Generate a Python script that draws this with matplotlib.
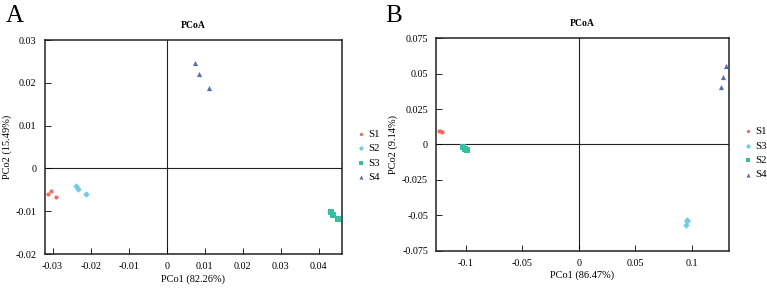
import matplotlib
matplotlib.use("Agg")
import matplotlib.pyplot as plt

plt.rcParams['font.family'] = ['Liberation Serif', 'DejaVu Serif']

# panel A
a_s1_x = [-0.0312, -0.0304, -0.0291]
a_s1_y = [-0.0060, -0.0053, -0.0066]
a_s2_x = [-0.0239, -0.0232, -0.0212]
a_s2_y = [-0.0040, -0.0047, -0.0059]
a_s3_x = [0.0432, 0.0437, 0.0452]
a_s3_y = [-0.0101, -0.0108, -0.0118]
a_s4_x = [0.0074, 0.0085, 0.0111]
a_s4_y = [0.0246, 0.0221, 0.0189]
a_xticks = [-0.03, -0.02, -0.01, 0, 0.01, 0.02, 0.03, 0.04]
a_xlabels = ['-0.03', '-0.02', '-0.01', '0', '0.01', '0.02', '0.03', '0.04']
a_yticks = [-0.02, -0.01, 0, 0.01, 0.02, 0.03]
a_ylabels = ['-0.02', '-0.01', '0', '0.01', '0.02', '0.03']

# panel B
b_s1_x = [-0.1240, -0.1225, -0.1212]
b_s1_y = [0.0096, 0.0098, 0.0090]
b_s3_x = [0.0962, 0.0962, 0.0950]
b_s3_y = [-0.0533, -0.0540, -0.0568]
b_s2_x = [-0.1027, -0.1009, -0.0991]
b_s2_y = [-0.0020, -0.0032, -0.0040]
b_s4_x = [0.1302, 0.1281, 0.1263]
b_s4_y = [0.0551, 0.0475, 0.0407]
b_xticks = [-0.1, -0.05, 0, 0.05, 0.1]
b_xlabels = ['-0.1', '-0.05', '0', '0.05', '0.1']
b_yticks = [-0.075, -0.05, -0.025, 0, 0.025, 0.05, 0.075]
b_ylabels = ['-0.075', '-0.05', '-0.025', '0', '0.025', '0.05', '0.075']

red = '#F26B5B'
lblue = '#6DCDE6'
teal = '#35BFA0'
blue = '#5670AE'

fig = plt.figure(figsize=(7.67, 2.91), dpi=100)


def style(ax, xt, xl, yt, yl, xlab, ylab):
    ax.axhline(0, color='#222222', lw=0.8, zorder=1)
    ax.axvline(0, color='#222222', lw=0.8, zorder=1)
    ax.set_xticks(xt)
    ax.set_xticklabels(xl)
    ax.set_yticks(yt)
    ax.set_yticklabels(yl)
    ax.tick_params(direction='in', length=4.3, width=0.6, labelsize=7.3, pad=6)
    for s in ax.spines.values():
        s.set_linewidth(1.1)
        s.set_color('#222222')
    ax.set_xlabel(ax.get_xlabel() or xlab, fontsize=7.5, labelpad=2)
    ax.set_ylabel(ylab, fontsize=7.5, labelpad=3)
    ax.set_title('PCoA', fontsize=7, fontweight='bold', pad=9)
    ax.legend(loc='center left', bbox_to_anchor=(1.01, 0.46), frameon=False,
              fontsize=7.8, handletextpad=0.1, labelspacing=0.45,
              handlelength=1.2, markerscale=0.8)


axa = fig.add_axes([0.0587, 0.127, 0.387, 0.735])
axa.scatter(a_s1_x, a_s1_y, s=9, marker='o', color=red, label='S1', zorder=3, lw=0)
axa.scatter(a_s2_x, a_s2_y, s=11, marker='D', color=lblue, label='S2', zorder=3, lw=0)
axa.scatter(a_s3_x, a_s3_y, s=18, marker='s', color=teal, label='S3', zorder=3, lw=0)
axa.scatter(a_s4_x, a_s4_y, s=14, marker='^', color=blue, label='S4', zorder=3, lw=0)
axa.set_xlim(-0.032, 0.0461)
axa.set_ylim(-0.02, 0.03)
style(axa, a_xticks, a_xlabels, a_yticks, a_ylabels, 'PCo1 (82.26%)', 'PCo2 (15.49%)')

axb = fig.add_axes([0.569, 0.1385, 0.381, 0.730])
axb.scatter(b_s1_x, b_s1_y, s=9, marker='o', color=red, label='S1', zorder=3, lw=0)
axb.scatter(b_s3_x, b_s3_y, s=11, marker='D', color=lblue, label='S3', zorder=3, lw=0)
axb.scatter(b_s2_x, b_s2_y, s=18, marker='s', color=teal, label='S2', zorder=3, lw=0)
axb.scatter(b_s4_x, b_s4_y, s=14, marker='^', color=blue, label='S4', zorder=3, lw=0)
axb.set_xlim(-0.126, 0.1327)
axb.set_ylim(-0.075, 0.075)
style(axb, b_xticks, b_xlabels, b_yticks, b_ylabels, 'PCo1 (86.47%)', 'PCo2 (9.14%)')

fig.text(0.008, 0.925, 'A', fontsize=18, ha='left', va='baseline')
fig.text(0.502, 0.925, 'B', fontsize=18, ha='left', va='baseline')

fig.savefig('out.png', dpi=100)
